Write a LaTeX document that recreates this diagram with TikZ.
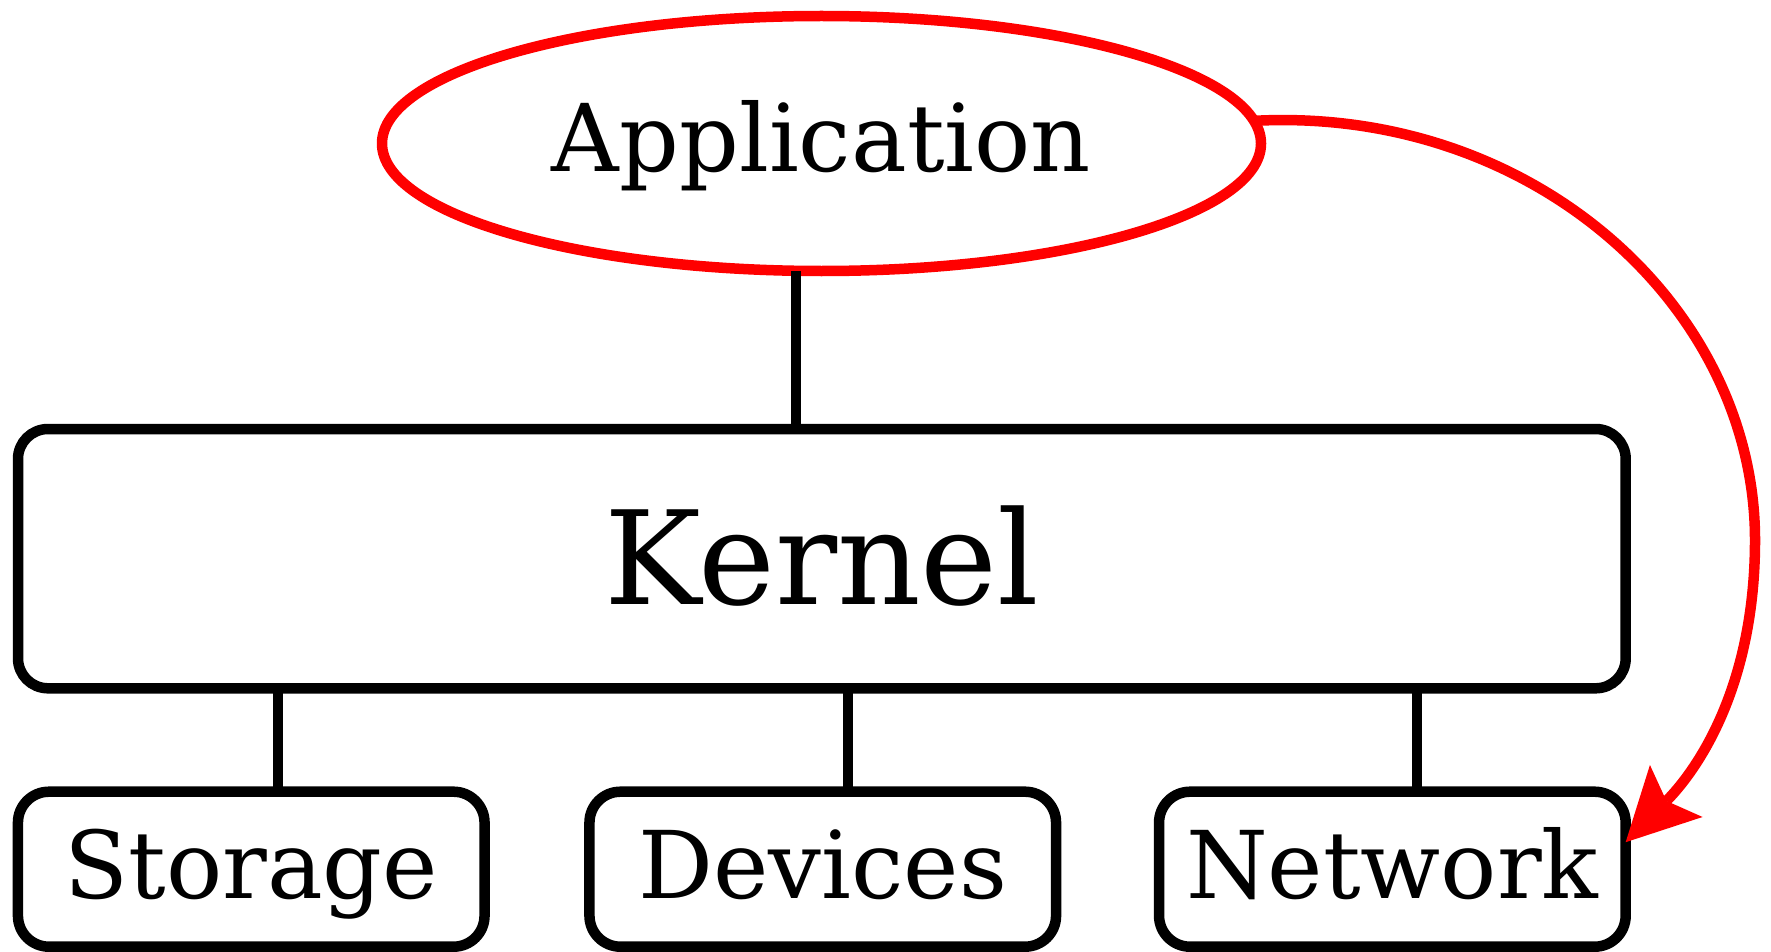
\documentclass[tikz,border=0pt]{standalone}
\usepackage{fontspec}
\setmainfont{DejaVu Serif}
\usetikzlibrary{arrows.meta,shapes.geometric}
\begin{document}
\begin{tikzpicture}[x=1pt,y=-1pt,
  every node/.style={inner sep=0pt, outer sep=0pt},
  appnode/.style={ellipse, draw=red, line width=10.5pt, minimum width=879pt, minimum height=255pt,
    font=\fontsize{93.5}{100}\selectfont, text height=66pt, text depth=9pt},
  kernbox/.style={draw=black, line width=10.5pt, rounded corners=30pt, minimum width=1607.7pt, minimum height=259.3pt,
    font=\fontsize{130}{140}\selectfont, text height=100pt, text depth=9.3pt},
  subbox/.style={draw=black, line width=10.5pt, rounded corners=31pt, minimum width=466.6pt, minimum height=155pt,
    font=\fontsize{93.5}{100}\selectfont, text height=66pt, text depth=8pt},
  conn/.style={draw=black, line width=10pt},
  redline/.style={draw=red, line width=10.5pt}]
\useasboundingbox (0,0) rectangle (1771,952);
\node[appnode] (app) at (821.5,143.5) {Application};
\node[kernbox] (kern) at (821.85,558.65) {Kernel};
\node[subbox] (stor) at (251.25,869.2) {Storage};
\node[subbox] (dev) at (822.75,869.2) {Devices};
\node[subbox] (net) at (1392.35,869.2) {Network};
\draw[conn] ([xshift=-25.8pt]app.south) -- ([xshift=-25.8pt]app.south |- kern.north);
\draw[conn] ([xshift=26.75pt]stor.north |- kern.south) -- ([xshift=26.75pt]stor.north);
\draw[conn] ([xshift=25pt]dev.north |- kern.south) -- ([xshift=25pt]dev.north);
\draw[conn] ([xshift=24.65pt]net.north |- kern.south) -- ([xshift=24.65pt]net.north);
\draw[redline, -{Stealth[length=72pt,width=74pt,inset=14pt,line width=0pt]}]
  (app.3.5) .. controls (1533,106) and (1755,307) .. (1755,540)
  .. controls (1755,690) and (1695,772) .. ([yshift=27pt]net.east);
\end{tikzpicture}
\end{document}
